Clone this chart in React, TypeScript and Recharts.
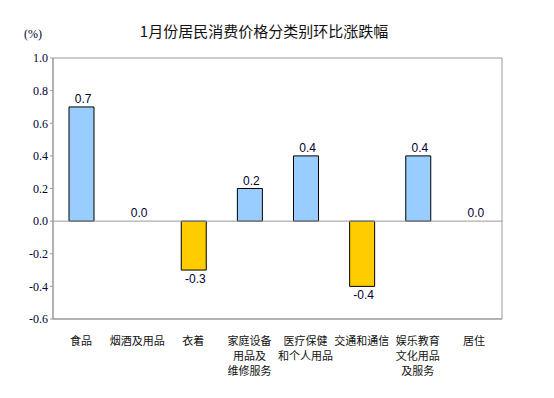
import {
  Bar,
  CartesianGrid,
  Cell,
  ComposedChart,
  LabelList,
  Line,
  ReferenceLine,
  XAxis,
  YAxis
} from "recharts";

const categories = [
  "食品",
  "烟酒及用品",
  "衣着",
  "家庭设备\n用品及\n维修服务",
  "医疗保健\n和个人用品",
  "交通和通信",
  "娱乐教育\n文化用品\n及服务",
  "居住"
];
const changes = [0.7, 0.0, -0.3, 0.2, 0.4, -0.4, 0.4, 0.0];
const yTicks = [1.0, 0.8, 0.6, 0.4, 0.2, 0.0, -0.2, -0.4, -0.6];

const data = categories.map((name, i) => ({ name, value: changes[i] }));

const cjk = "'Noto Sans CJK SC', 'Noto Sans', sans-serif";

function CategoryTick({ x, y, payload }: any) {
  const lines = String(payload.value).split("\n");
  return (
    <text x={x} y={y} textAnchor="middle" fontSize={11} fontFamily={cjk} fill="#111">
      {lines.map((l, i) => (
        <tspan key={i} x={x} dy={i === 0 ? 18 : 15}>
          {l}
        </tspan>
      ))}
    </text>
  );
}

// labels hang off an invisible line so zero values get one too
function ValueLabel({ x, y, value }: any) {
  const neg = value < 0;
  return (
    <text
      x={x + 2}
      y={neg ? y + 13 : y - 4}
      textAnchor="middle"
      fontSize={12}
      fontFamily="'Liberation Sans', Arial, sans-serif"
      fill="#000033"
    >
      {Number(value).toFixed(1)}
    </text>
  );
}

export default function App() {
  return (
    <div style={{ position: "absolute", left: 0, top: 0, width: 554, height: 398, background: "#fff" }}>
      <svg width={554} height={398} style={{ position: "absolute", left: 0, top: 0 }}>
        <text x={264} y={37} textAnchor="middle" fontSize={15} fontFamily={cjk} fill="#111">
          1月份居民消费价格分类别环比涨跌幅
        </text>
        <text x={33} y={38} textAnchor="middle" fontSize={12} fontFamily="'Liberation Serif', serif" fill="#000033">
          (%)
        </text>
      </svg>
      <div style={{ position: "absolute", left: 0, top: 0 }}>
        <ComposedChart
          width={554}
          height={398}
          data={data}
          margin={{ top: 58, right: 52, left: 0, bottom: 0 }}
          barSize={25}
        >
          <CartesianGrid
            stroke="#999"
            horizontalCoordinatesGenerator={({ offset }: any) => [offset.top, offset.top + offset.height]}
            verticalCoordinatesGenerator={({ offset }: any) => [offset.left, offset.left + offset.width]}
          />
          <XAxis
            dataKey="name"
            interval={0}
            tick={<CategoryTick />}
            tickLine={false}
            axisLine={{ stroke: "#999" }}
            height={79}
          />
          <YAxis
            domain={[-0.6, 1.0]}
            ticks={yTicks}
            interval={0}
            width={53}
            tickFormatter={(v: number) => v.toFixed(1)}
            tick={{ fontSize: 12, fontFamily: "'Liberation Serif', serif", fill: "#000033" }}
            tickLine={{ stroke: "#999" }}
            tickSize={3}
            axisLine={{ stroke: "#999" }}
          />
          <ReferenceLine y={0} stroke="#999" />
          <Bar dataKey="value" stroke="#000" strokeWidth={1} isAnimationActive={false}>
            {data.map((d, i) => (
              <Cell key={i} fill={d.value < 0 ? "#FFCC00" : "#99CCFF"} />
            ))}
          </Bar>
          <Line dataKey="value" stroke="none" dot={false} activeDot={false} isAnimationActive={false}>
            <LabelList dataKey="value" content={<ValueLabel />} />
          </Line>
        </ComposedChart>
      </div>
    </div>
  );
}
